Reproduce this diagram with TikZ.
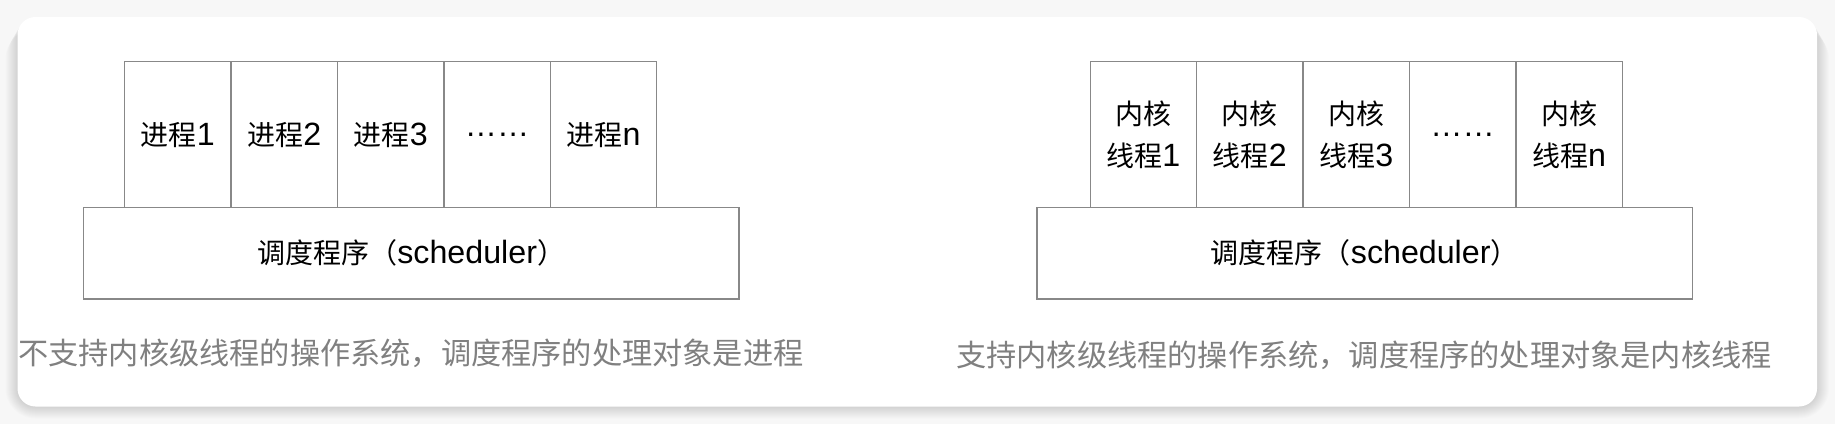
\documentclass[tikz,border=0pt]{standalone}
\usepackage{fontspec}
\setmainfont{Liberation Sans}[Scale=1.15]
\newfontfamily\cjk{Noto Sans CJK SC}
\newcommand{\zh}[1]{{\cjk #1}}
\definecolor{linegray}{RGB}{136,136,136}
\definecolor{capgray}{RGB}{128,128,128}
\definecolor{pagebg}{RGB}{247,247,247}
\tikzset{
  cell/.style={draw=linegray, line width=1.4pt, minimum width=106.4pt, minimum height=145.7pt,
    inner sep=0pt, anchor=north west, align=center, text=black,
    font=\fontsize{28}{42}\selectfont},
  sched/.style={draw=linegray, line width=1.4pt, minimum width=655.6pt, minimum height=91.6pt,
    inner sep=0pt, anchor=north west, text=black, font=\fontsize{28}{34}\selectfont},
  captxt/.style={anchor=west, inner sep=0pt, text=capgray, font=\fontsize{30.2}{36}\selectfont},
  card/.style={fill=white, rounded corners=18pt}
}
\begin{document}
\begin{tikzpicture}[x=1pt,y=1pt]
\useasboundingbox (0,0) rectangle (1835,-424);
\fill[pagebg] (0,0) rectangle (1835,-424);
% soft shadow of the card
\foreach \d in {12,11,...,1}{
  \fill[black, opacity=0.011, rounded corners={18pt+\d pt}] (17.5-\d,-17-\d) rectangle (1817+\d,-406.5-\d);
}
\fill[card] (17.5,-17) rectangle (1817,-406.5);

% left diagram
\node[cell] (p1) at (124,-61) {\zh{进程}1};
\node[cell] (p2) at (230.4,-61) {\zh{进程}2};
\node[cell] (p3) at (336.8,-61) {\zh{进程}3};
\node[cell] (p4) at (443.2,-61) {……};
\node[cell] (p5) at (549.6,-61) {\zh{进程}n};
\node[sched] (s1) at (82.7,-206.7) {\zh{调度程序（}scheduler\zh{）}};
\node[captxt] (c1) at (18,-353) {\zh{不支持内核级线程的操作系统，调度程序的处理对象是进程}};

% right diagram
\node[cell] (t1) at (1089.5,-61) {\zh{内核}\\\zh{线程}1};
\node[cell] (t2) at (1195.9,-61) {\zh{内核}\\\zh{线程}2};
\node[cell] (t3) at (1302.3,-61) {\zh{内核}\\\zh{线程}3};
\node[cell] (t4) at (1408.7,-61) {……};
\node[cell] (t5) at (1515.1,-61) {\zh{内核}\\\zh{线程}n};
\node[sched] (s2) at (1036.2,-206.7) {\zh{调度程序（}scheduler\zh{）}};
\node[captxt] (c2) at (956,-355) {\zh{支持内核级线程的操作系统，调度程序的处理对象是内核线程}};
\end{tikzpicture}
\end{document}
